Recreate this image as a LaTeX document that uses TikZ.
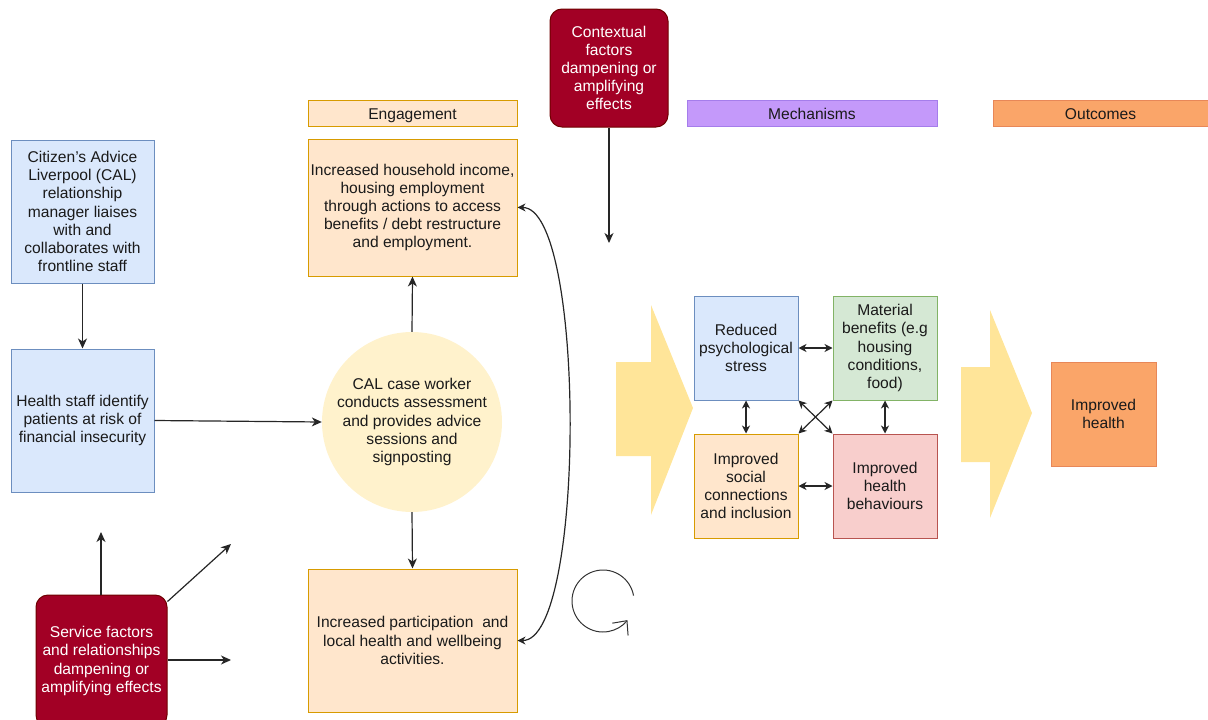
\documentclass[tikz,border=0pt]{standalone}
\usepackage{fontspec}
\setmainfont{Liberation Sans}
\usetikzlibrary{arrows.meta,shapes.geometric}
\definecolor{blueF}{HTML}{DAE8FC}\definecolor{blueS}{HTML}{6C8EBF}
\definecolor{oranF}{HTML}{FFE6CC}\definecolor{oranS}{HTML}{D79B00}
\definecolor{greenF}{HTML}{D5E8D4}\definecolor{greenS}{HTML}{82B366}
\definecolor{redF}{HTML}{F8CECC}\definecolor{redS}{HTML}{B85450}
\definecolor{circF}{HTML}{FFF2CC}
\definecolor{bigY}{HTML}{FFE599}
\definecolor{darkR}{HTML}{A20025}\definecolor{darkRS}{HTML}{6F0000}
\definecolor{purF}{RGB}{196,153,250}\definecolor{purS}{RGB}{165,125,235}
\definecolor{outF}{RGB}{250,165,105}\definecolor{outS}{RGB}{232,135,88}
\definecolor{txtC}{HTML}{1A1A1A}
\begin{document}
\begin{tikzpicture}[x=1pt,y=-1pt,
  txt/.style={font=\fontsize{15.6}{18.2}\selectfont, align=center, inner sep=0pt, text=txtC},
  box/.style={txt, draw, line width=1pt, rectangle},
  hdr/.style={box, text height=14pt, text depth=2pt},
  bluebox/.style={box, fill=blueF, draw=blueS},
  oranbox/.style={box, fill=oranF, draw=oranS},
  factor/.style={txt, text=white, fill=darkR, draw=darkRS, line width=1pt, rounded corners=12pt},
  arr/.style={-{Stealth[length=10pt,width=9pt,inset=3pt]}, line width=1.2pt, draw=black!85},
  darr/.style={{Stealth[length=8pt,width=8pt,inset=2.5pt]}-{Stealth[length=8pt,width=8pt,inset=2.5pt]}, line width=1.2pt, draw=black!85},
  bigarrow/.style={fill=bigY, draw=none}
]
\useasboundingbox (0,0) rectangle (1208,720);

% left column
\node[bluebox, minimum width=143pt, minimum height=143pt] (cal) at (82.5,211.5)
  {Citizen's Advice\\Liverpool (CAL)\\relationship\\manager liaises\\with and\\collaborates with\\frontline staff};
\node[bluebox, minimum width=143pt, minimum height=143pt] (hs) at (82.5,420.5)
  {Health staff identify\\patients at risk of\\financial insecurity};
\node[factor, minimum width=131pt, minimum height=132pt] (sf) at (101.5,661)
  {Service factors\\and relationships\\dampening or\\amplifying effects};

% engagement column
\node[hdr, fill=oranF, draw=oranS, minimum width=209pt, minimum height=26pt] (eng) at (412.5,113) {Engagement};
\node[oranbox, minimum width=209pt, minimum height=137pt] (top) at (412.5,207.5)
  {Increased household income,\\housing employment\\through actions to access\\benefits / debt restructure\\and employment.};
\node[txt, circle, fill=circF, minimum size=180pt] (cw) at (412,422)
  {CAL case worker\\conducts assessment\\and provides advice\\sessions and\\signposting};
\node[oranbox, minimum width=209pt, minimum height=143pt] (bot) at (412.5,640.5)
  {Increased participation~ and\\local health and wellbeing\\activities.};

% contextual factors
\node[factor, minimum width=118pt, minimum height=118pt] (ctx) at (609,68)
  {Contextual\\factors\\dampening or\\amplifying\\effects};
\coordinate (ctxend) at (609,243);

% headers
\node[hdr, fill=purF, draw=purS, minimum width=250pt, minimum height=26pt] (mech) at (812,113) {Mechanisms};
\node[hdr, fill=outF, draw=outS, minimum width=215pt, minimum height=26pt] (outc) at (1100.5,113) {Outcomes};

% big arrows
\fill[bigarrow] (616,362) -- (651,362) -- (651,305) -- (693,408) -- (651,515) -- (651,456) -- (616,456) -- cycle;
\fill[bigarrow] (961,367) -- (990,367) -- (990,310) -- (1032,413) -- (990,518) -- (990,462) -- (961,462) -- cycle;

% mechanisms
\node[bluebox, minimum width=104pt, minimum height=104pt] (rps) at (746,348)
  {Reduced\\psychological\\stress};
\node[box, fill=greenF, draw=greenS, minimum width=104pt, minimum height=104pt] (mb) at (885,348)
  {Material\\benefits (e.g\\housing\\conditions,\\food)};
\node[oranbox, minimum width=104pt, minimum height=104pt] (isc) at (746,486)
  {Improved\\social\\connections\\and inclusion};
\node[box, fill=redF, draw=redS, minimum width=104pt, minimum height=104pt] (ihb) at (885,486)
  {Improved\\health\\behaviours};

% outcome
\node[box, fill=outF, draw=outS, minimum width=105pt, minimum height=104pt] (ih) at (1103.5,414)
  {Improved\\health};

% connectors
\draw[arr] (cal) -- (hs);
\draw[arr] (hs.east) -- (cw.west);
\draw[arr] (cw.north) -- (top.south);
\draw[arr] (cw.south) -- (bot.north);
\draw[arr] (ctx.south) -- (ctxend);
\draw[darr] (top.east) .. controls (586,207) and (586,641) .. (bot.east);

\coordinate (sfup) at (101,532);
\coordinate (sfdiag) at (231,544);
\coordinate (sfright) at (231,660);
\draw[arr] (sf.north -| sfup) -- (sfup);
\draw[arr] ([yshift=-7pt]sf.north east) -- (sfdiag);
\draw[arr] (sf.east |- sfright) -- (sfright);

\draw[darr] (rps.east) -- (mb.west);
\draw[darr] (isc.east) -- (ihb.west);
\draw[darr] (rps.south) -- (isc.north);
\draw[darr] (mb.south) -- (ihb.north);
\draw[darr] (rps.south east) -- (ihb.north west);
\draw[darr] (mb.south west) -- (isc.north east);

% loop symbol
\coordinate (loopc) at (603,601);
\draw[line width=1pt, draw=black!80, -{Straight Barb[length=11pt,width=20pt]}] (loopc) ++(-10:31) arc[start angle=-10, end angle=-322, radius=31];
\end{tikzpicture}
\end{document}
